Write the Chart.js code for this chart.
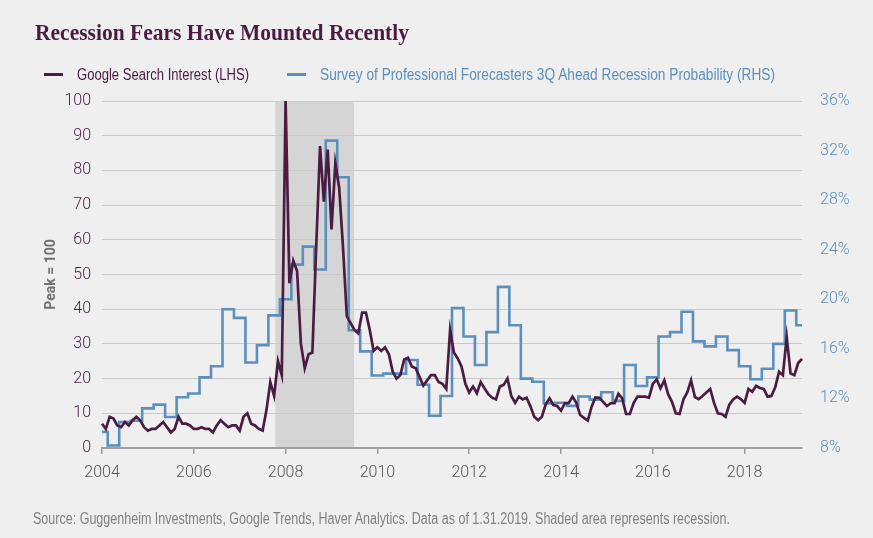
<!DOCTYPE html>
<html>
<head>
<meta charset="utf-8">
<title>Recession Fears Have Mounted Recently</title>
<script src="https://cdn.jsdelivr.net/npm/chart.js@4.4.1/dist/chart.umd.min.js"></script>
<style>
  html, body { margin: 0; padding: 0; background: #efefef; }
  #wrap { position: relative; width: 873px; height: 538px; overflow: hidden; }
  #recessionChart { position: absolute; left: 0; top: 0; }
  .fit { position: absolute; white-space: nowrap; line-height: 1; transform-origin: 0 50%; }
  #title { left: 35px; top: 19px; font: bold 24px "Liberation Serif", serif; color: #4a1c42; }
  #source { left: 33px; top: 510px; font: 16px "Liberation Sans", Arial, sans-serif; color: #808080; }
  .legend-item { position: absolute; top: 66px; height: 16px; white-space: nowrap; }
  .legend-item .mark { position: absolute; left: 0; top: 7px; width: 19px; height: 3px; }
  .legend-item .fit { left: 33px; top: 0; font: 16px "Liberation Sans", Arial, sans-serif; }
</style>
</head>
<body>
<div id="wrap">
  <canvas id="recessionChart" width="873" height="538"></canvas>
  <div id="title" class="fit">Recession Fears Have Mounted Recently</div>
  <div id="legend"></div>
  <div id="source" class="fit">Source: Guggenheim Investments, Google Trends, Haver Analytics. Data as of 1.31.2019. Shaded area represents recession.</div>
</div>
<script>
// Google search interest, monthly from Jan 2004 (peak = 100)
const googleInterest = [
  7, 5.5, 9, 8.5, 6.5, 6, 7.5, 6.5, 8, 9, 8, 6,
  5, 5.5, 5.5, 6.5, 7.5, 6, 4.5, 5.5, 9, 7, 7, 6.5,
  5.5, 5.5, 6, 5.5, 5.5, 4.5, 6.5, 8, 7, 6, 6.5, 6.5,
  5, 9, 10, 7, 6.5, 5.5, 5, 11, 19, 15, 25, 21,
  100, 47.5, 54, 51, 30, 23, 27, 27.5, 58, 87, 71, 86,
  63, 82, 75, 58, 38, 36, 34, 33, 39, 39, 34, 28,
  29, 28, 29, 27, 22, 20, 21, 25.5, 26, 23.5, 23, 20.5,
  18, 19.5, 21, 21, 19, 18.5, 17, 34, 27.5, 25.8, 23.4, 18.5,
  16, 17.7, 15.8, 19, 17.2, 15.5, 14.5, 14, 17.7, 18.2, 20, 15,
  13, 14.8, 14, 14.5, 12, 9, 8, 9, 12.6, 14.3, 12.4, 12.1,
  10.8, 12.9, 12.9, 14.8, 13, 9.5, 8.7, 7.9, 11.9, 14.6, 14.5, 13.3,
  12.1, 12.9, 12.9, 15.6, 14.3, 9.8, 9.8, 13, 14.8, 14.8, 14.8, 14.5,
  18.5, 19.8, 17.2, 19.5, 15.5, 13.3, 10, 9.8, 14, 16, 19.5, 14.7,
  14.1, 15, 16, 17, 13, 10, 9.8, 9, 12.5, 14, 14.8, 14.1,
  13, 17, 16.2, 17.9, 17.3, 17, 14.8, 15, 17.5, 22, 21, 32,
  21.5, 21, 24.5, 25.7
];

// SPF 3Q-ahead recession probability (%), quarterly from Q1 2004
const spfProbability = [
  9.3, 8.2, 10.1, 10.2, 11.2, 11.5, 10.5, 12.1, 12.4, 13.7,
  14.6, 19.2, 18.5, 14.9, 16.3, 18.7, 20.0, 22.8, 24.25, 22.4,
  32.8, 29.85, 17.5, 15.8, 13.85, 14.0, 14.0, 15.1, 13.1, 10.6,
  12.2, 19.3, 17.0, 14.7, 17.35, 21.0, 17.9, 13.6, 13.35, 11.6,
  11.65, 11.4, 12.15, 11.9, 12.5, 11.8, 14.7, 13.0, 13.7, 17.0,
  17.35, 19.0, 16.6, 16.2, 17.0, 15.9, 14.6, 13.55, 14.4, 16.4,
  19.1, 17.9
];

const yearLabels = ["2004", "2006", "2008", "2010", "2012", "2014", "2016", "2018"];
const leftTicks = [0, 10, 20, 30, 40, 50, 60, 70, 80, 90, 100];
const rightTicks = [8, 12, 16, 20, 24, 28, 32, 36];
// shaded recession, in months after Jan 2004
const recessionMonths = [45.3, 65.9];

const purple = "#4a1c42";
const blue = "#5b8fbd";
const tickFont = { family: "Roboto", size: 16, weight: 300 };

const recessionShade = {
  id: "recessionShade",
  beforeDraw(chart) {
    const { ctx, chartArea, scales } = chart;
    const x0 = scales.x.getPixelForValue(recessionMonths[0]);
    const x1 = scales.x.getPixelForValue(recessionMonths[1]);
    ctx.save();
    ctx.fillStyle = "#d5d5d5";
    ctx.fillRect(x0, chartArea.top, x1 - x0, chartArea.bottom - chartArea.top);
    ctx.restore();
  },
};

const chart = new Chart(document.getElementById("recessionChart"), {
  type: "line",
  data: {
    datasets: [
      {
        label: "Google Search Interest (LHS)",
        data: googleInterest.map((v, i) => ({ x: i, y: v })),
        yAxisID: "y",
        borderColor: purple,
        backgroundColor: purple,
        borderWidth: 2.7,
        pointRadius: 0,
        clip: false,
      },
      {
        label: "Survey of Professional Forecasters 3Q Ahead Recession Probability (RHS)",
        data: spfProbability.map((v, i) => ({ x: i * 3, y: v })),
        yAxisID: "y1",
        borderColor: blue,
        backgroundColor: blue,
        borderWidth: 2.6,
        pointRadius: 0,
        stepped: "middle",
        clip: false,
      },
    ],
  },
  options: {
    responsive: false,
    animation: false,
    events: [],
    layout: { padding: { top: 101, left: 25, right: 0, bottom: 50 } },
    plugins: {
      tooltip: { enabled: false },
      legend: { display: false },
    },
    scales: {
      x: {
        type: "linear",
        min: 0,
        max: googleInterest.length - 1,
        afterBuildTicks: (scale) => {
          scale.ticks = yearLabels.map((label, i) => ({ value: i * 24 }));
        },
        afterFit: (scale) => { scale.height = 40; },
        ticks: {
          autoSkip: false,
          maxRotation: 0,
          padding: 9,
          color: "#555555",
          font: tickFont,
          callback: (v) => yearLabels[Math.round(v / 24)],
        },
        grid: { drawOnChartArea: false, drawTicks: true, tickLength: 6, color: "#9a9a9a", lineWidth: 1.5 },
        border: { display: true, color: "#a0a0a0", width: 2 },
      },
      y: {
        position: "left",
        min: 0,
        max: 100,
        afterBuildTicks: (scale) => {
          scale.ticks = leftTicks.map((v) => ({ value: v }));
        },
        afterFit: (scale) => { scale.width = 77; },
        ticks: { padding: 11, color: purple, font: tickFont },
        title: {
          display: true,
          text: "Peak = 100",
          color: "#6f6f6f",
          padding: { top: 18, bottom: 0 },
          font: { family: "Roboto", size: 14, weight: "bold" },
        },
        grid: { color: "#c9c9c9", lineWidth: 1, drawTicks: false },
        border: { display: false },
      },
      y1: {
        position: "right",
        min: 8,
        max: 36,
        afterBuildTicks: (scale) => {
          scale.ticks = rightTicks.map((v) => ({ value: v }));
        },
        afterFit: (scale) => { scale.width = 71; },
        ticks: { padding: 10, color: blue, font: tickFont, callback: (v) => v + "%" },
        grid: { display: false },
        border: { display: false },
      },
    },
  },
  plugins: [recessionShade],
});

// html legend built from the chart's datasets (narrow type, so squeeze to width)
const legendSpots = [{ left: 44, width: 172 }, { left: 287, width: 455 }];
const legendBox = document.getElementById("legend");
chart.data.datasets.forEach((ds, i) => {
  const item = document.createElement("div");
  item.className = "legend-item";
  item.style.left = legendSpots[i].left + "px";
  item.innerHTML = '<span class="mark"></span><span class="fit"></span>';
  item.querySelector(".mark").style.background = ds.borderColor;
  const text = item.querySelector(".fit");
  text.textContent = ds.label;
  text.style.color = ds.borderColor;
  text.dataset.width = legendSpots[i].width;
  legendBox.appendChild(item);
});
document.getElementById("title").dataset.width = 374;
document.getElementById("source").dataset.width = 697;

function squeeze() {
  document.querySelectorAll(".fit").forEach((el) => {
    el.style.transform = "none";
    const w = el.getBoundingClientRect().width;
    el.style.transform = "scaleX(" + (el.dataset.width / w) + ")";
  });
}
squeeze();
document.fonts.ready.then(squeeze);
</script>
</body>
</html>
